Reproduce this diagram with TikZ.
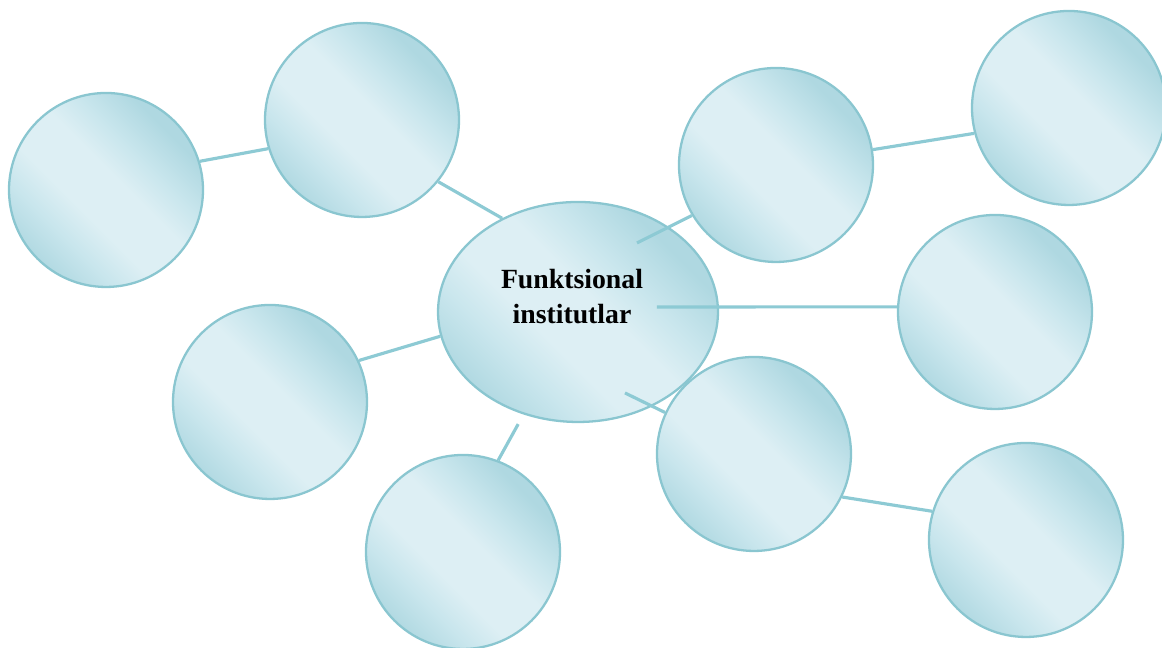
\documentclass[tikz,border=0pt]{standalone}
\usepackage{fontspec}
\setmainfont{Liberation Serif}
\usepackage{tikz}
\usetikzlibrary{shapes.geometric}
\usetikzlibrary{calc}
\usepackage{xcolor}

\definecolor{balldark}{HTML}{AFD8E1}
\definecolor{ballmid}{HTML}{C9E6ED}
\definecolor{balllight}{HTML}{DDEFF4}
\definecolor{ballrim}{HTML}{8AC6D0}
\definecolor{linkcol}{HTML}{8DCAD4}

\pgfdeclareverticalshading{ballshade}{100bp}{color(0bp)=(balldark); color(24bp)=(balldark);
  color(34bp)=(ballmid); color(42bp)=(balllight); color(54bp)=(balllight);
  color(62bp)=(ballmid); color(72bp)=(balldark); color(100bp)=(balldark)}

\begin{document}
\begin{tikzpicture}[
  ball/.style={circle, minimum size=1.94cm, inner sep=0pt, draw=ballrim, line width=0.65pt,
    shading=ballshade, shading angle=-45},
  hub/.style={ellipse, minimum width=2.8cm, minimum height=2.2cm, inner sep=0pt, draw=ballrim, line width=0.65pt,
    shading=ballshade, shading angle=-45,
    align=center, font=\fontsize{7.9}{10}\selectfont\bfseries, text depth=0.32cm},
  link/.style={linkcol, line width=0.9pt}]

\useasboundingbox (0,0) rectangle (11.62,6.48);

% the balls
\node[ball] (n1) at (1.06,4.58) {};
\node[ball] (n2) at (3.62,5.28) {};
\node[ball] (n3) at (7.76,4.83) {};
\node[ball] (n4) at (10.69,5.40) {};
\node[ball] (n5) at (9.95,3.36) {};
\node[ball] (n6) at (2.70,2.46) {};
\node[ball] (n7) at (4.63,0.96) {};
\node[ball] (n8) at (7.54,1.94) {};
\node[ball] (n9) at (10.26,1.08) {};

% centre
\node[hub] (c) at (5.78,3.36) {Funktsional\hspace*{0.12cm}\\institutlar\hspace*{0.12cm}};

\coordinate (c3) at ($(c.center)+(0.59,0.69)$);
\coordinate (c5) at ($(c.center)+(0.79,0.05)$);
\coordinate (c8) at ($(c.center)+(0.47,-0.81)$);

% links
\draw[link] (n1.17) -- (n2.197);
\draw[link] (n2.-39) -- (c.129);
\draw[link] (c3) -- (n3.211);
\draw[link] (n3.9) -- (n4.195);
\draw[link] (c5) -- (n5.177);
\draw[link] (n6.25) -- (c.190);
\draw[link, shorten >=0.11cm] (n7.69) -- (c.242);
\draw[link] (c8) -- (n8.155);
\draw[link] (n8.-26) -- (n9.163);

\end{tikzpicture}
\end{document}
